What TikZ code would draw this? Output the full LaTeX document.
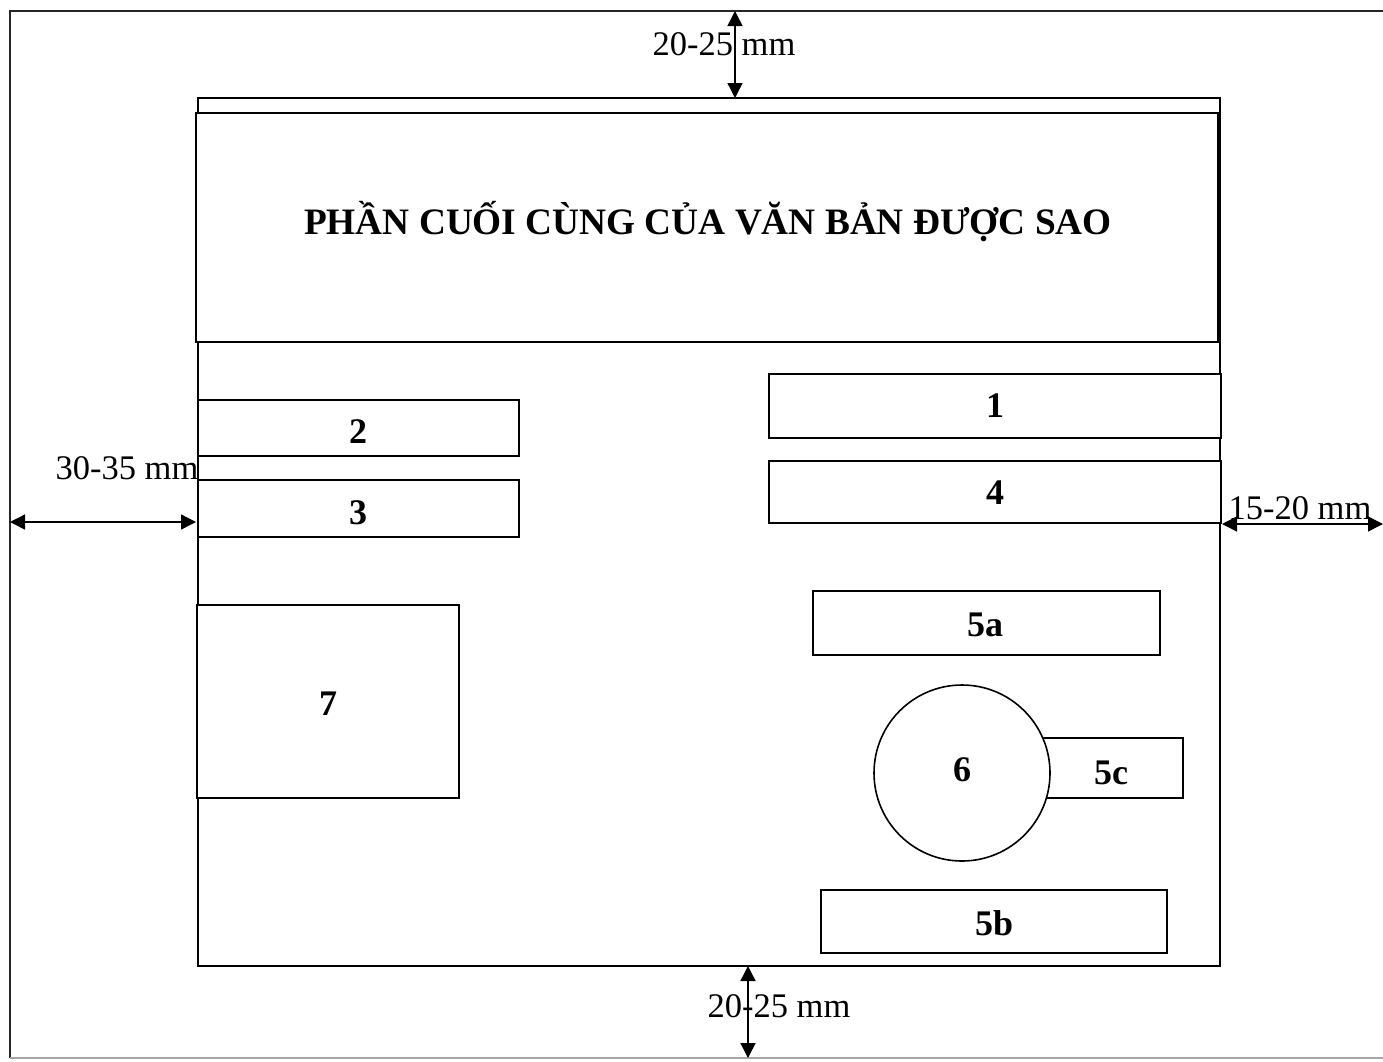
\documentclass[tikz,border=0pt]{standalone}
\usepackage{fontspec}
\setmainfont{Liberation Serif}
\usetikzlibrary{arrows.meta}
\begin{document}
\begin{tikzpicture}[x=1pt,y=-1pt,
  every node/.style={inner sep=0pt,outer sep=0pt},
  frameline/.style={line width=1.6pt,draw=black!85},
  boxshape/.style={draw,line width=1.6pt,rectangle,fill=white},
  numlabel/.style={font=\fontsize{36}{38}\selectfont\bfseries},
  dimlabel/.style={font=\fontsize{34.5}{36}\selectfont},
  dimarrow/.style={line width=1.4pt,{Triangle[length=15pt,width=15pt]}-{Triangle[length=15pt,width=15pt]}}]
\useasboundingbox (0,0) rectangle (1383,1061);
% outer frame
\draw[frameline] (1383,11) -- (10,11) -- (10,1058);
\draw[line width=1.2pt,draw=black!35] (10,1058) -- (1383,1058);
% page
\node[boxshape,minimum width=1022pt,minimum height=868pt] (page) at (709,532) {};
% header
\node[boxshape,minimum width=1022pt,minimum height=229pt] (head) at (707,227.5) {};
\node[font=\fontsize{37.3}{40}\selectfont\bfseries] (title) at (708,222) {PHẦN CUỐI CÙNG CỦA VĂN BẢN ĐƯỢC SAO};
% boxes
\node[boxshape,minimum width=452pt,minimum height=64pt] (b1) at (995,406) {};
\node[numlabel] at (b1) {1};
\node[boxshape,minimum width=452pt,minimum height=62pt] (b4) at (995,492) {};
\node[numlabel] at (995,493) {4};
\node[boxshape,minimum width=321pt,minimum height=56pt] (b2) at (358.5,428) {};
\node[numlabel] at (358,432) {2};
\node[boxshape,minimum width=321pt,minimum height=57pt] (b3) at (358.5,508.5) {};
\node[numlabel] at (358,513) {3};
\node[boxshape,minimum width=347pt,minimum height=64pt] (b5a) at (986.5,623) {};
\node[numlabel] at (985,625) {5a};
\node[boxshape,minimum width=200pt,minimum height=60pt] (b5c) at (1083,768) {};
\node[numlabel] at (1111,773) {5c};
\node[boxshape,circle,minimum size=176pt] (c6) at (962,773) {};
\node[numlabel] at (962,770) {6};
\node[boxshape,minimum width=346pt,minimum height=63pt] (b5b) at (994,921.5) {};
\node[numlabel] at (994,923) {5b};
\node[boxshape,minimum width=262pt,minimum height=193pt] (b7) at (328,701.5) {};
\node[numlabel] at (328,704) {7};
% dimension coordinates
\coordinate (ttop) at (735,11);
\coordinate (tbot) at (735,98);
\coordinate (btop) at (748,966);
\coordinate (bbot) at (748,1058);
\coordinate (lleft) at (10,522);
\coordinate (lright) at (196,522);
\coordinate (rleft) at (1222,524);
\coordinate (rright) at (1383,524);
\node[dimlabel] (lt) at (724,44) {20-25 mm};
\node[dimlabel] (lb) at (779,1006) {20-25 mm};
\node[dimlabel] (ll) at (127,468) {30-35 mm};
\node[dimlabel] (lr) at (1300,508) {15-20 mm};
\draw[dimarrow] (ttop) -- (tbot);
\draw[dimarrow] (btop) -- (bbot);
\draw[dimarrow] (lleft) -- (lright);
\draw[dimarrow] (rleft) -- (rright);
\end{tikzpicture}
\end{document}
